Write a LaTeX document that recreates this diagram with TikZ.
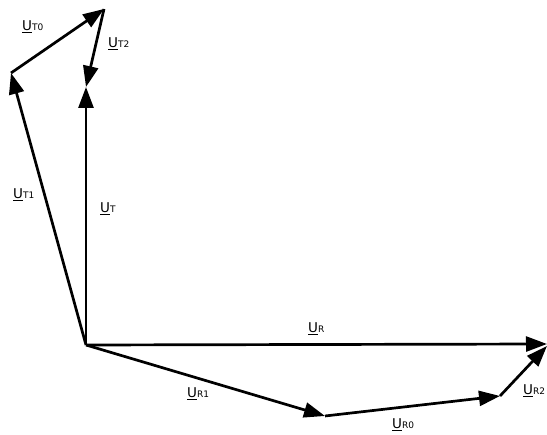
\documentclass[tikz,border=0pt]{standalone}
\usepackage{fontspec}
\setmainfont{DejaVu Sans}
\usetikzlibrary{arrows.meta}
\newcommand\vlab[1]{\underline{U}{\fontsize{9}{10}\selectfont #1}}
\begin{document}
\begin{tikzpicture}[x=1pt,y=-1pt,
  vec/.style={line width=2.7pt,-{Triangle[length=21pt,width=15pt]}},
  lab/.style={anchor=base west,inner sep=0pt,font=\fontsize{13.5}{15}\selectfont}]
\useasboundingbox (0,0) rectangle (547,435);
\coordinate (O) at (86,345);
\coordinate (T) at (86,87);
\coordinate (T1) at (11,73);
\coordinate (T0) at (104,9);
\coordinate (R) at (547,344);
\coordinate (R1) at (325,416);
\coordinate (R0) at (500,396);
\coordinate (R2) at (547,346);
\draw[vec] (O) -- (T);
\draw[vec] (O) -- (T1);
\draw[vec] (T1) -- (T0);
\draw[vec] (T0) -- (T);
\draw[vec] (O) -- (R);
\draw[vec] (O) -- (R1);
\draw[vec] (R1) -- (R0);
\draw[vec] (R0) -- (R2);
\node[lab] (lT0) at (22,31) {\vlab{T0}};
\node[lab] (lT2) at (108,48) {\vlab{T2}};
\node[lab] (lT1) at (13,199) {\vlab{T1}};
\node[lab] (lT) at (100,213) {\vlab{T}};
\node[lab] (lR) at (308,333) {\vlab{R}};
\node[lab] (lR1) at (187,398) {\vlab{R1}};
\node[lab] (lR0) at (392,429) {\vlab{R0}};
\node[lab] (lR2) at (523,395) {\vlab{R2}};
\end{tikzpicture}
\end{document}
